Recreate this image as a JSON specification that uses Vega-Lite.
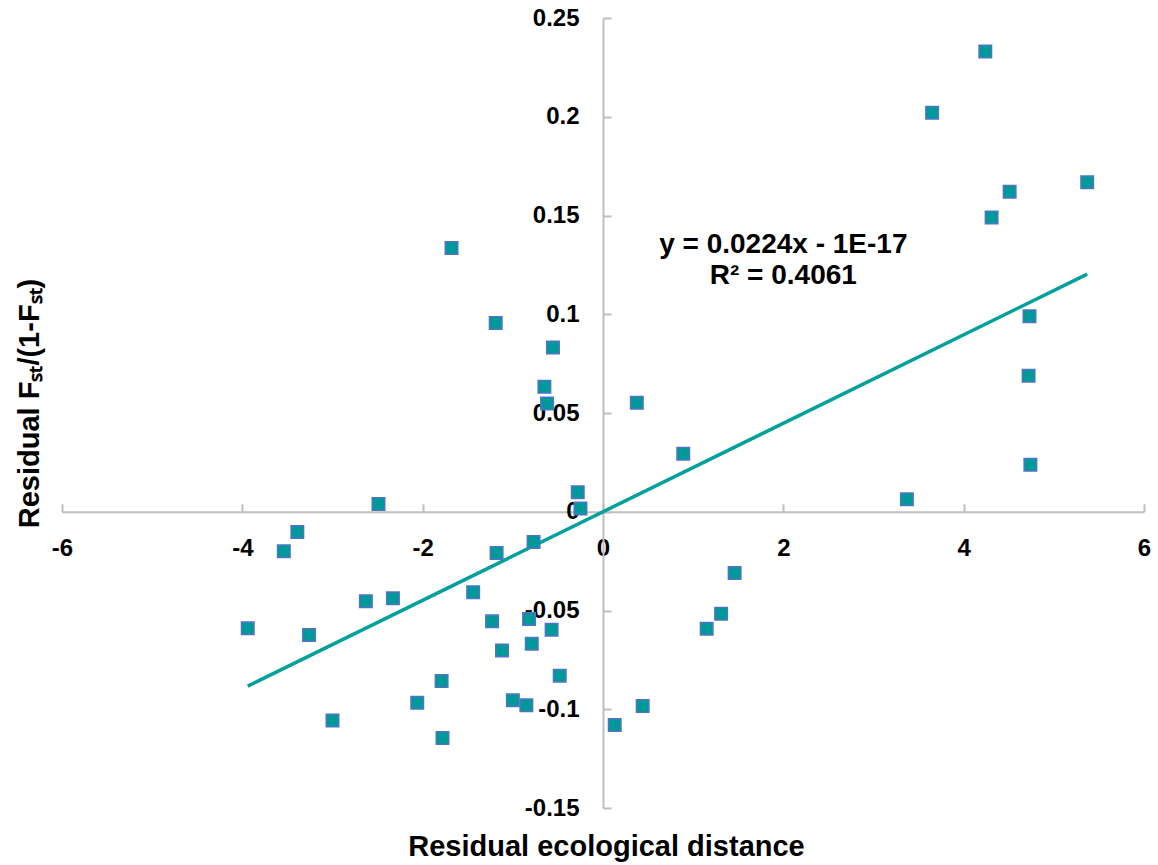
{
  "$schema": "https://vega.github.io/schema/vega-lite/v6.json",
  "width": 1082,
  "height": 790,
  "autosize": {"type": "none"},
  "padding": {"left": 62, "top": 18, "right": 14, "bottom": 57},
  "background": "white",
  "config": {"view": {"stroke": null}, "font": "Liberation Sans"},
  "datasets": {
    "points": [
      {"x": -3.94, "y": -0.059},
      {"x": -3.26, "y": -0.0624},
      {"x": -2.63, "y": -0.0453},
      {"x": -2.33, "y": -0.0438},
      {"x": -1.44, "y": -0.0407},
      {"x": -1.23, "y": -0.0555},
      {"x": -0.82, "y": -0.0543},
      {"x": -0.57, "y": -0.0597},
      {"x": -0.79, "y": -0.0668},
      {"x": -1.12, "y": -0.0703},
      {"x": -0.48, "y": -0.083},
      {"x": -1.79, "y": -0.0857},
      {"x": -2.06, "y": -0.0967},
      {"x": -1.0, "y": -0.0955},
      {"x": -0.85, "y": -0.098},
      {"x": -3.0, "y": -0.1057},
      {"x": -1.78, "y": -0.1146},
      {"x": 0.13, "y": -0.108},
      {"x": 1.31, "y": -0.0517},
      {"x": 1.15, "y": -0.0592},
      {"x": 0.44, "y": -0.0984},
      {"x": 1.46, "y": -0.031},
      {"x": 4.73, "y": 0.099},
      {"x": 4.72, "y": 0.0689},
      {"x": 4.74, "y": 0.0238},
      {"x": 3.37, "y": 0.0063},
      {"x": 0.375, "y": 0.0552},
      {"x": 0.89, "y": 0.0294},
      {"x": -1.19, "y": 0.0956},
      {"x": -0.555, "y": 0.0832},
      {"x": -0.65, "y": 0.0633},
      {"x": -0.62, "y": 0.0548},
      {"x": -0.28, "y": 0.0099},
      {"x": -0.25, "y": 0.0017},
      {"x": -2.49, "y": 0.0039},
      {"x": -3.39, "y": -0.0102},
      {"x": -3.54, "y": -0.02},
      {"x": -0.77, "y": -0.0153},
      {"x": -1.18, "y": -0.0209},
      {"x": 4.24, "y": 0.233},
      {"x": 3.65, "y": 0.202},
      {"x": 4.51, "y": 0.162},
      {"x": 5.37, "y": 0.1668},
      {"x": 4.31, "y": 0.149},
      {"x": -1.68, "y": 0.1336}
    ],
    "trend": [
      {"x": -3.94, "y": -0.0883},
      {"x": 5.37, "y": 0.1203}
    ],
    "eq": [
      {"x": 2.0, "y": 0.1312, "label": "y = 0.0224x - 1E-17"},
      {"x": 2.0, "y": 0.1155, "label": "R² = 0.4061"}
    ]
  },
  "encoding": {
    "x": {
      "field": "x",
      "type": "quantitative",
      "scale": {"domain": [-6, 6], "nice": false, "zero": false},
      "axis": {
        "orient": "bottom",
        "offset": -296.25,
        "values": [-6, -4, -2, 0, 2, 4, 6],
        "labelExpr": "toString(datum.value)",
        "grid": false,
        "domainColor": "#BFBFBF",
        "domainWidth": 2,
        "tickColor": "#BFBFBF",
        "tickWidth": 2,
        "tickSize": -8,
        "labelPadding": 33,
        "labelFont": "Liberation Sans",
        "labelFontSize": 24,
        "labelFontWeight": "bold",
        "labelColor": "black",
        "labelFlush": false,
        "labelOverlap": false,
        "title": "Residual ecological distance",
        "titleFont": "Liberation Sans",
        "titleFontSize": 29,
        "titleFontWeight": "bold",
        "titleColor": "black",
        "titleX": 544,
        "titleY": 344,
        "titleBaseline": "alphabetic",
        "titleAlign": "center"
      }
    },
    "y": {
      "field": "y",
      "type": "quantitative",
      "scale": {"domain": [-0.15, 0.25], "nice": false, "zero": false},
      "axis": {
        "orient": "left",
        "offset": -541,
        "values": [-0.15, -0.1, -0.05, 0, 0.05, 0.1, 0.15, 0.2, 0.25],
        "labelExpr": "toString(datum.value)",
        "grid": false,
        "domainColor": "#BFBFBF",
        "domainWidth": 2,
        "tickColor": "#BFBFBF",
        "tickWidth": 2,
        "tickSize": -8,
        "labelPadding": 32,
        "labelFont": "Liberation Sans",
        "labelFontSize": 24,
        "labelFontWeight": "bold",
        "labelColor": "black",
        "labelFlush": false,
        "labelOverlap": false,
        "title": "Residual Fₛₜ/(1-Fₛₜ)",
        "titleFont": "Liberation Sans",
        "titleFontSize": 29,
        "titleFontWeight": "bold",
        "titleColor": "black",
        "titleAngle": -90,
        "titleX": -574,
        "titleY": 385,
        "titleBaseline": "middle",
        "titleAlign": "center"
      }
    }
  },
  "layer": [
    {
      "data": {"name": "trend"},
      "mark": {"type": "line", "color": "#00A19A", "strokeWidth": 3.5},
      "encoding": {}
    },
    {
      "data": {"name": "points"},
      "mark": {"type": "point", "shape": "square", "filled": true, "fill": "#009999", "stroke": "#4F74C8", "strokeWidth": 1.5, "size": 156, "opacity": 1},
      "encoding": {}
    },
    {
      "data": {"name": "eq"},
      "mark": {"type": "text", "font": "Liberation Sans", "fontSize": 28, "fontWeight": "bold", "color": "black", "align": "center", "baseline": "alphabetic"},
      "encoding": {"text": {"field": "label", "type": "nominal"}}
    }
  ]
}
